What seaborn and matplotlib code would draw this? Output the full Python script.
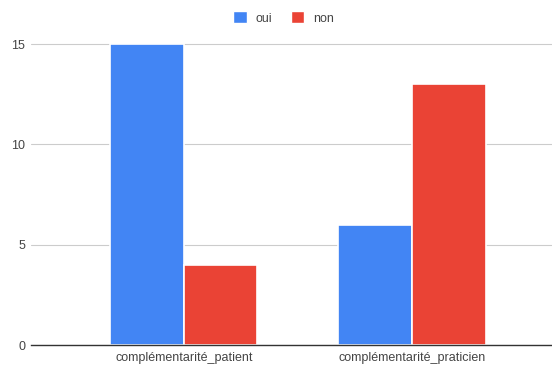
import numpy as np
import pandas as pd
import matplotlib
matplotlib.use("Agg")
import matplotlib.pyplot as plt
import seaborn as sns
from matplotlib.patches import Patch

categories = ["complémentarité_patient", "complémentarité_praticien"]
oui = [15, 6]
non = [4, 13]
y_ticks = [0, 5, 10, 15]

df = pd.DataFrame({
    "cat": categories * 2,
    "rep": ["oui"] * 2 + ["non"] * 2,
    "val": oui + non,
})

sns.set_style("white")
plt.rcParams['font.family'] = ['Liberation Sans', 'DejaVu Sans']

colors = {"oui": "#4285F4", "non": "#EA4335"}

fig = plt.figure(figsize=(5.52, 3.69), dpi=100)
ax = fig.add_axes([0.056, 0.065, 0.944, 0.818])

sns.barplot(data=df, x="cat", y="val", hue="rep", palette=colors, saturation=1,
            width=0.645, edgecolor="white", linewidth=1.2, ax=ax, legend=False)

ax.set_xlim(-0.671, 1.614)
ax.set_ylim(0, 15.05)
ax.set_yticks(y_ticks)
ax.yaxis.grid(True, color="#cccccc", linewidth=0.8)
ax.set_axisbelow(True)
for s in ["top", "right", "left"]:
    ax.spines[s].set_visible(False)
ax.spines["bottom"].set_color("#333333")
ax.spines["bottom"].set_linewidth(1)
ax.tick_params(axis="both", length=0, labelsize=9, labelcolor="#444444", pad=5)
ax.tick_params(axis="y", pad=4)
ax.set_xlabel("")
ax.set_ylabel("")

handles = [Patch(facecolor=colors["oui"], label="oui"),
           Patch(facecolor=colors["non"], label="non")]
leg = fig.legend(handles=handles, loc="upper center", bbox_to_anchor=(0.514, 1.0),
                 ncol=2, frameon=False, fontsize=9, handlelength=1.1,
                 handleheight=1.1, handletextpad=0.7, columnspacing=1.45)
for t in leg.get_texts():
    t.set_color("#444444")

fig.savefig("out.png", dpi=100)
